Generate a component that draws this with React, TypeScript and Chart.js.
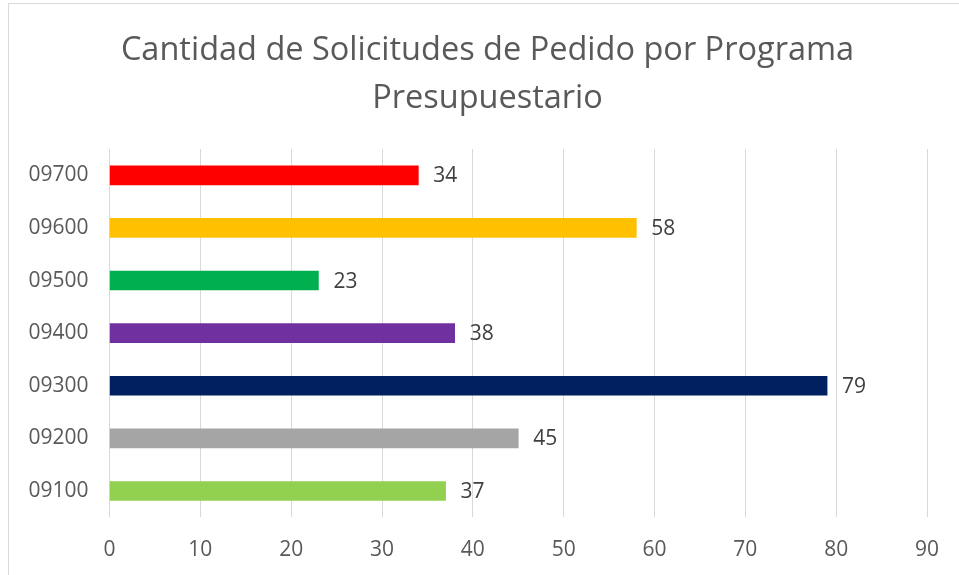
import React, { useEffect, useRef } from "react";
import { Chart, registerables } from "chart.js";

Chart.register(...registerables);

const categories = ["09700", "09600", "09500", "09400", "09300", "09200", "09100"];
const values = [34, 58, 23, 38, 79, 45, 37];
const barColors = ["#FF0000", "#FFC000", "#00B050", "#7030A0", "#002060", "#A5A5A5", "#92D050"];
const titleLines = ["Cantidad de Solicitudes de Pedido por Programa", "Presupuestario"];
const xMin = 0;
const xMax = 90;
const xStep = 10;

const FONT = "'Open Sans', 'Noto Sans', sans-serif";

const valueLabels = {
  id: "valueLabels",
  afterDatasetsDraw(chart: any) {
    const ctx = chart.ctx;
    ctx.save();
    ctx.font = `21px ${FONT}`;
    ctx.fillStyle = "#404040";
    ctx.textAlign = "left";
    ctx.textBaseline = "middle";
    chart.data.datasets.forEach((ds: any, di: number) => {
      const meta = chart.getDatasetMeta(di);
      meta.data.forEach((el: any, i: number) => {
        ctx.fillText(String(ds.data[i]), el.x + 15, el.y + 1);
      });
    });
    ctx.restore();
  },
};

const centeredTitle = {
  id: "centeredTitle",
  afterDraw(chart: any) {
    const ctx = chart.ctx;
    ctx.save();
    ctx.font = `32.5px ${FONT}`;
    ctx.fillStyle = "#595959";
    ctx.textAlign = "center";
    ctx.textBaseline = "middle";
    const cx = (chart.width - 2) / 2;
    const lineH = 47.3;
    titleLines.forEach((t, i) => {
      ctx.fillText(t, cx, 47.1 + i * lineH);
    });
    ctx.restore();
  },
};

export default function App() {
  const ref = useRef<HTMLCanvasElement>(null);
  useEffect(() => {
    if (!ref.current) return;
    const chart = new Chart(ref.current, {
      type: "bar",
      data: {
        labels: categories,
        datasets: [
          {
            data: values,
            backgroundColor: barColors,
            barThickness: 19,
          },
        ],
      },
      options: {
        indexAxis: "y",
        animation: false,
        responsive: false,
        maintainAspectRatio: false,
        layout: { padding: { left: 0, right: 41, top: 145, bottom: 0 } },
        plugins: {
          legend: { display: false },
          tooltip: { enabled: false },
          title: { display: false },
        },
        scales: {
          x: {
            min: xMin,
            max: xMax,
            ticks: {
              stepSize: xStep,
              color: "#595959",
              font: { family: FONT, size: 21 },
              padding: 20,
            },
            grid: { color: "#D9D9D9", lineWidth: 1, drawTicks: false },
            border: { display: false },
            afterFit(scale: any) {
              scale.height = 57.7;
            },
          },
          y: {
            ticks: {
              color: "#595959",
              font: { family: FONT, size: 21 },
              padding: 21,
            },
            grid: { display: false, drawTicks: false },
            border: { display: false },
            afterFit(scale: any) {
              scale.width = 100.5;
            },
          },
        },
      },
      plugins: [valueLabels, centeredTitle],
    });
    return () => chart.destroy();
  }, []);
  return (
    <div
      style={{
        position: "absolute",
        left: 8,
        top: 3,
        width: 960,
        height: 580,
        border: "1px solid #D9D9D9",
        background: "#fff",
      }}
    >
      <canvas ref={ref} width={959} height={571} style={{ display: "block" }} />
    </div>
  );
}
